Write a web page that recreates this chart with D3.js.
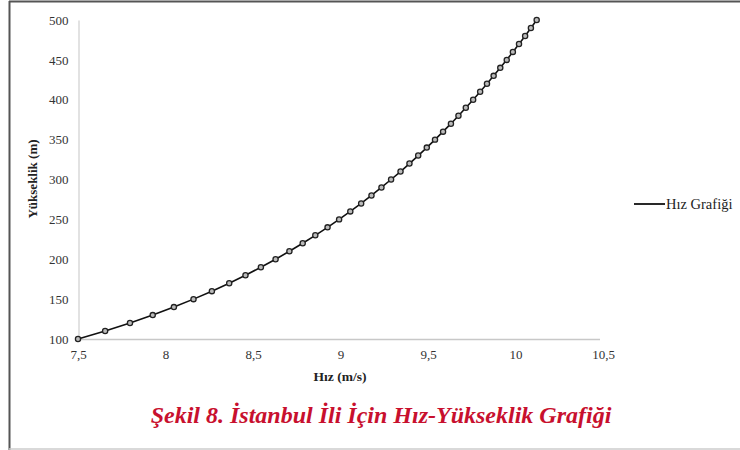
<!DOCTYPE html>
<html>
<head>
<meta charset="utf-8">
<script src="https://cdn.jsdelivr.net/npm/d3@7/dist/d3.min.js"></script>
<style>
  html, body { margin: 0; padding: 0; background: #fff; }
  svg { display: block; }
</style>
</head>
<body>
<svg id="chart" width="740" height="450"></svg>
<script>
// Data: height (m) and speed (m/s)
const heights = [100,110,120,130,140,150,160,170,180,190,200,210,220,230,240,250,260,270,280,290,300,310,320,330,340,350,360,370,380,390,400,410,420,430,440,450,460,470,480,490,500];
const speeds = [7.50,7.655,7.797,7.927,8.048,8.160,8.265,8.364,8.457,8.545,8.629,8.708,8.784,8.856,8.926,8.992,9.056,9.118,9.177,9.234,9.289,9.343,9.394,9.444,9.493,9.540,9.586,9.631,9.674,9.716,9.758,9.798,9.837,9.875,9.913,9.950,9.985,10.020,10.055,10.088,10.121];
const xTicks = [7.5, 8, 8.5, 9, 9.5, 10, 10.5];
const yTicks = [100, 150, 200, 250, 300, 350, 400, 450, 500];
const seriesName = "Hız Grafiği";
const xTitle = "Hız (m/s)";
const yTitle = "Yükseklik  (m)";
const caption = "Şekil 8. İstanbul İli İçin Hız-Yükseklik Grafiği";

const svg = d3.select("#chart");
const serif = "'Liberation Serif', 'Times New Roman', serif";

// frame
svg.append("line").attr("x1", 9).attr("x2", 740).attr("y1", 1.5).attr("y2", 1.5)
  .attr("stroke", "#555").attr("stroke-width", 2);
svg.append("line").attr("x1", 9.5).attr("x2", 9.5).attr("y1", 1).attr("y2", 450)
  .attr("stroke", "#555").attr("stroke-width", 2);
svg.append("line").attr("x1", 9).attr("x2", 740).attr("y1", 449).attr("y2", 449)
  .attr("stroke", "#ccc").attr("stroke-width", 1.5);

const x = d3.scaleLinear().domain([7.5, 10.5]).range([78, 603]);
const y = d3.scaleLinear().domain([100, 500]).range([339, 20]);

// axes
const xAxis = svg.append("g").attr("transform", "translate(0,339.5)")
  .call(d3.axisBottom(x).tickValues(xTicks).tickSize(0).tickPadding(10)
    .tickFormat(d => String(d).replace(".", ",")));
xAxis.select(".domain").attr("stroke", "#c8c8c8").attr("stroke-width", 1.5).attr("d", "M78,0H600");
xAxis.selectAll("text").attr("font-family", serif).attr("font-size", 13).attr("fill", "#333");

const yAxis = svg.append("g").attr("transform", "translate(78.5,0)")
  .call(d3.axisLeft(y).tickValues(yTicks).tickSize(0).tickPadding(10));
yAxis.select(".domain").attr("stroke", "#d8d8d8").attr("stroke-width", 1.5);
yAxis.selectAll("text").attr("font-family", serif).attr("font-size", 13).attr("fill", "#333");

// titles
svg.append("text").attr("x", 340).attr("y", 381).attr("text-anchor", "middle")
  .attr("font-family", serif).attr("font-weight", "bold").attr("font-size", 13.5)
  .attr("fill", "#222").text(xTitle);
svg.append("text").attr("transform", "translate(37,179) rotate(-90)").attr("text-anchor", "middle")
  .attr("font-family", serif).attr("font-weight", "bold").attr("font-size", 13)
  .attr("fill", "#222").text(yTitle);

// series
const pts = heights.map((h, i) => ({ h, v: speeds[i] }));
svg.append("path").datum(pts)
  .attr("d", d3.line().x(d => x(d.v)).y(d => y(d.h)))
  .attr("fill", "none").attr("stroke", "#111").attr("stroke-width", 1.6);
svg.append("g").selectAll("circle").data(pts).join("circle")
  .attr("cx", d => x(d.v)).attr("cy", d => y(d.h)).attr("r", 2.6)
  .attr("fill", "#bbb").attr("stroke", "#222").attr("stroke-width", 1.3);

// legend
svg.append("line").attr("x1", 634).attr("x2", 665).attr("y1", 204).attr("y2", 204)
  .attr("stroke", "#111").attr("stroke-width", 1.8);
svg.append("text").attr("x", 666).attr("y", 208.5)
  .attr("font-family", serif).attr("font-size", 14.5).attr("fill", "#222").text(seriesName);

// caption
svg.append("text").attr("x", 381).attr("y", 423).attr("text-anchor", "middle")
  .attr("font-family", serif).attr("font-weight", "bold").attr("font-style", "italic")
  .attr("font-size", 24).attr("fill", "#c8102e").text(caption);
</script>
</body>
</html>
